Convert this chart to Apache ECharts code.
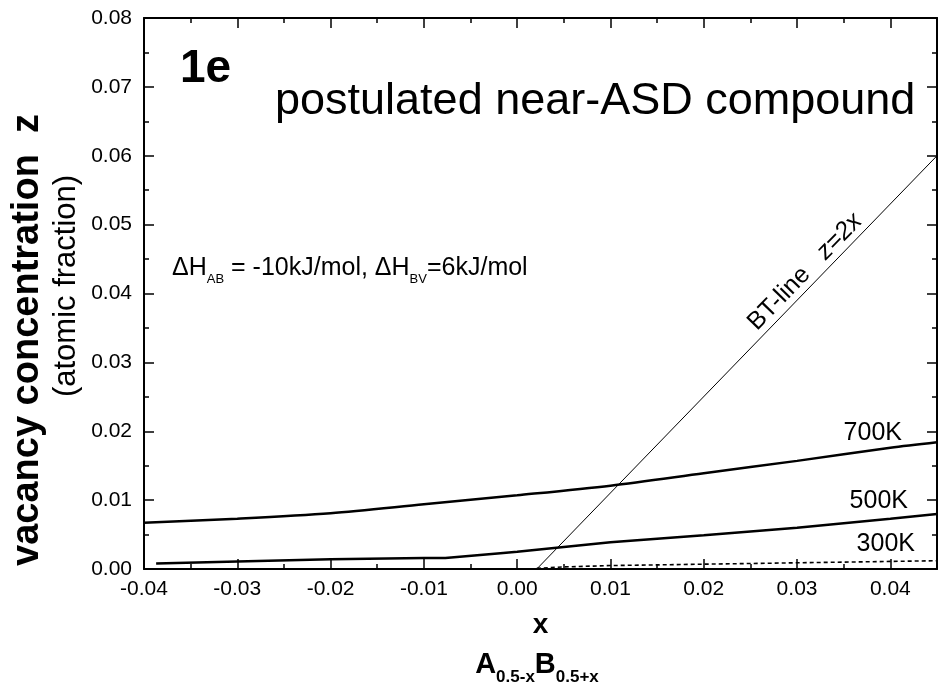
<!DOCTYPE html>
<html>
<head>
<meta charset="utf-8">
<script src="https://cdn.jsdelivr.net/npm/echarts@6/dist/echarts.min.js"></script>
<style>
  html, body { margin: 0; padding: 0; background: #fff; }
  #chart { width: 947px; height: 683px; }
</style>
</head>
<body>
<div id="chart"></div>
<script>
// Vacancy concentration z versus deviation x from stoichiometry, A(0.5-x)B(0.5+x)
const x700 = [-0.04, -0.03, -0.02, -0.01, 0.00, 0.01, 0.02, 0.03, 0.04, 0.045];
const z700 = [0.0067, 0.0073, 0.0081, 0.0094, 0.0107, 0.0121, 0.0139, 0.0157, 0.0176, 0.0184];

const x500 = [-0.0387, -0.03, -0.02, -0.01, -0.0077, -0.0018, 0.00, 0.005, 0.01, 0.02, 0.03, 0.04, 0.045];
const z500 = [0.0008, 0.0011, 0.0014, 0.0016, 0.0016, 0.0023, 0.0025, 0.0032, 0.0039, 0.0049, 0.0060, 0.0073, 0.0080];

const x300 = [0.0021, 0.005, 0.01, 0.02, 0.03, 0.04, 0.045];
const z300 = [0.0001, 0.0003, 0.0005, 0.0007, 0.0009, 0.0011, 0.0012];

// BT-line (triple-defect line)
const xBT = [0.0021, 0.045];
const zBT = [0.0, 0.06];

const xTicks = [-0.04, -0.03, -0.02, -0.01, 0.00, 0.01, 0.02, 0.03, 0.04];
const zTicks = [0.00, 0.01, 0.02, 0.03, 0.04, 0.05, 0.06, 0.07, 0.08];

const pairs = (xs, ys) => xs.map((v, i) => [v, ys[i]]);
const FONT = '"Liberation Sans", Arial, sans-serif';

const chart = echarts.init(document.getElementById('chart'), null, { renderer: 'canvas' });

const baseAxis = {
  axisLine: { show: true, onZero: false, lineStyle: { color: '#000', width: 2 } },
  axisTick: { show: true, inside: true, length: 10, lineStyle: { color: '#000', width: 1.5 } },
  minorTick: { show: true, splitNumber: 2, length: 5, lineStyle: { color: '#000', width: 1.5 } },
  splitLine: { show: false }
};

const xAxisMain = Object.assign({}, baseAxis, {
  type: 'value', position: 'bottom',
  min: xTicks[0], max: 0.045, interval: 0.01,
  axisLabel: {
    color: '#000', fontFamily: FONT, fontSize: 21, margin: 10,
    formatter: v => (xTicks.some(t => Math.abs(t - v) < 1e-9) ? v.toFixed(2) : '')
  },
  name: 'x', nameLocation: 'middle', nameGap: 42,
  nameTextStyle: { color: '#000', fontFamily: FONT, fontSize: 28, fontWeight: 'bold' }
});
const xAxisTop = Object.assign({}, baseAxis, {
  type: 'value', position: 'top',
  min: xTicks[0], max: 0.045, interval: 0.01,
  axisLabel: { show: false }
});
const yAxisMain = Object.assign({}, baseAxis, {
  type: 'value', position: 'left',
  min: zTicks[0], max: zTicks[zTicks.length - 1], interval: 0.01,
  axisLabel: {
    color: '#000', fontFamily: FONT, fontSize: 21, margin: 12,
    formatter: v => v.toFixed(2)
  }
});
const yAxisRight = Object.assign({}, baseAxis, {
  type: 'value', position: 'right',
  min: zTicks[0], max: zTicks[zTicks.length - 1], interval: 0.01,
  axisLabel: { show: false }
});

const textStyle = (extra) => Object.assign({ fill: '#000', font: '25px ' + FONT }, extra);

chart.setOption({
  animation: false,
  backgroundColor: '#fff',
  grid: { left: 144, top: 18, right: 10, bottom: 114, containLabel: false },
  xAxis: [xAxisMain, xAxisTop],
  yAxis: [yAxisMain, yAxisRight],
  series: [
    {
      name: '700K', type: 'line', data: pairs(x700, z700), showSymbol: false,
      lineStyle: { color: '#000', width: 2.5 }, smooth: 0.3
    },
    {
      name: '500K', type: 'line', data: pairs(x500, z500), showSymbol: false,
      lineStyle: { color: '#000', width: 2.5 }
    },
    {
      name: '300K', type: 'line', data: pairs(x300, z300), showSymbol: false,
      lineStyle: { color: '#000', width: 1.6, type: [4, 3] }
    },
    {
      name: 'BT-line', type: 'line', data: pairs(xBT, zBT), showSymbol: false,
      lineStyle: { color: '#000', width: 1 }
    }
  ],
  graphic: [
    { type: 'text', left: 180, top: 46, style: textStyle({ text: '1e', font: 'bold 46px ' + FONT }) },
    { type: 'text', left: 275, top: 79, style: textStyle({ text: 'postulated near-ASD compound', font: '45px ' + FONT }) },
    {
      type: 'text', left: 172, top: 256,
      style: {
        text: '{m|ΔH}{s|AB}{m| = -10kJ/mol, ΔH}{s|BV}{m|=6kJ/mol}',
        rich: {
          m: { fontFamily: FONT, fontSize: 25, fill: '#000', verticalAlign: 'bottom', lineHeight: 29 },
          s: { fontFamily: FONT, fontSize: 13, fill: '#000', verticalAlign: 'bottom', lineHeight: 15, padding: [0, 0, -5, 0] }
        }
      }
    },
    { type: 'text', right: 45, top: 421, style: textStyle({ text: '700K' }) },
    { type: 'text', right: 39, top: 489, style: textStyle({ text: '500K' }) },
    { type: 'text', right: 32, top: 532, style: textStyle({ text: '300K' }) },
    {
      type: 'text', x: 805, y: 272, rotation: Math.PI * 45.8 / 180,
      style: {
        text: '{a|BT-line}{b|   z=2x}',
        align: 'center', verticalAlign: 'middle',
        rich: {
          a: { fontFamily: FONT, fontSize: 25, fill: '#000' },
          b: { fontFamily: FONT, fontSize: 25, fill: '#000', fontStyle: 'italic' }
        }
      }
    },
    {
      type: 'text', x: 28, y: 340, rotation: Math.PI / 2,
      style: textStyle({ text: 'vacancy concentration  z', font: 'bold 38px ' + FONT, align: 'center', verticalAlign: 'middle' })
    },
    {
      type: 'text', x: 66, y: 286, rotation: Math.PI / 2,
      style: textStyle({ text: '(atomic fraction)', font: '31px ' + FONT, align: 'center', verticalAlign: 'middle' })
    },
    {
      type: 'text', x: 537, y: 663,
      style: {
        text: '{b|A}{s|0.5-x}{b|B}{s|0.5+x}',
        align: 'center', verticalAlign: 'middle',
        rich: {
          b: { fontFamily: FONT, fontSize: 29, fontWeight: 'bold', fill: '#000', verticalAlign: 'bottom', lineHeight: 32 },
          s: { fontFamily: FONT, fontSize: 17, fontWeight: 'bold', fill: '#000', verticalAlign: 'bottom', lineHeight: 19, padding: [0, 0, -7, 0] }
        }
      }
    }
  ]
});
</script>
</body>
</html>
